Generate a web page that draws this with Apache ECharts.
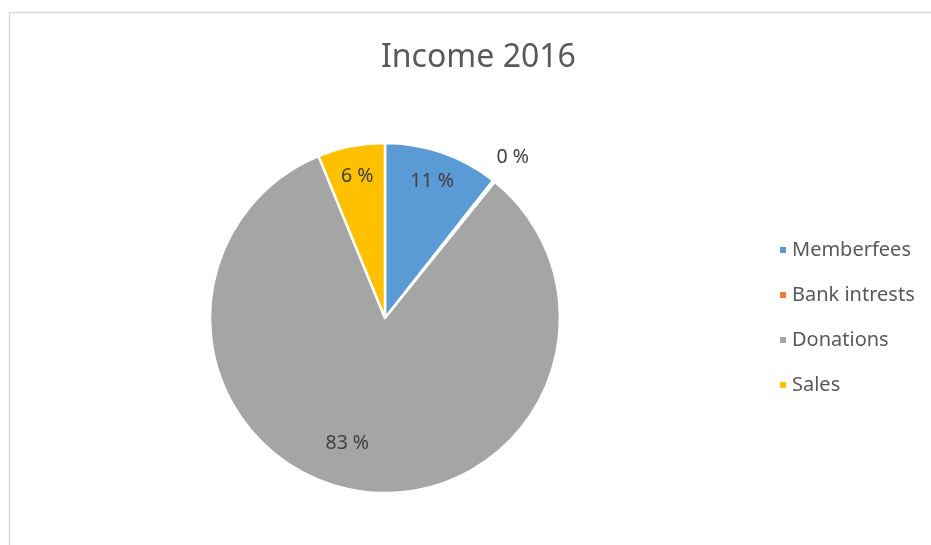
<!DOCTYPE html>
<html>
<head>
<meta charset="utf-8">
<script src="https://cdn.jsdelivr.net/npm/echarts@6/dist/echarts.min.js"></script>
<style>
  html, body { margin: 0; padding: 0; background: #fff; }
  #chart { width: 931px; height: 545px; }
</style>
</head>
<body>
<div id="chart"></div>
<script>
// Income sources for 2016, share of total (%)
const categories = ['Memberfees', 'Bank intrests', 'Donations', 'Sales'];
const shares = [10.6, 0.2, 83.0, 6.2];
const colors = ['#5B9BD5', '#ED7D31', '#A5A5A5', '#FFC000'];

const FONT = '"Noto Sans", "Open Sans", sans-serif';
const CENTER = [385, 318];
const R = 175;

const pieData = categories.map((name, i) => ({
  name, value: shares[i], itemStyle: { color: colors[i] }
}));

const pctText = p => Math.round(p.percent) + ' %';

// transparent overlay rings carry the value labels at chosen distances from the centre
function labelRing(show, inner, outer, extraLabel) {
  return {
    type: 'pie', silent: true, center: CENTER, radius: [inner, outer],
    startAngle: 90, clockwise: true, avoidLabelOverlap: false,
    legendHoverLink: false, z: 5,
    itemStyle: { color: 'rgba(0,0,0,0)', borderWidth: 0 },
    emphasis: { disabled: true },
    labelLine: { show: false },
    data: categories.map((name, i) => ({
      name, value: shares[i],
      label: Object.assign({
        show: show.includes(i), position: 'inside', formatter: pctText,
        color: '#404040', fontSize: 19.5, fontFamily: FONT
      }, (extraLabel && extraLabel[i]) || {})
    }))
  };
}

const chart = echarts.init(document.getElementById('chart'));
chart.setOption({
  backgroundColor: '#fff',
  animation: false,
  color: colors,
  title: {
    text: 'Income 2016', left: 381, top: 42, padding: 0,
    textStyle: { color: '#595959', fontSize: 32, fontWeight: 'normal', fontFamily: FONT }
  },
  graphic: [{
    type: 'rect', silent: true,
    shape: { x: 9.5, y: 12.5, width: 1000, height: 600 },
    style: { fill: 'none', stroke: '#d9d9d9', lineWidth: 1.5 }
  }],
  legend: {
    orient: 'vertical', left: 773, top: 235,
    icon: 'rect', itemWidth: 8, itemHeight: 8, itemGap: 25,
    data: categories,
    textStyle: { color: '#595959', fontSize: 20, fontFamily: FONT, padding: [0, 0, 0, 0] }
  },
  series: [
    {
      type: 'pie', center: CENTER, radius: [0, R],
      startAngle: 90, clockwise: true,
      itemStyle: { borderColor: '#fff', borderWidth: 2.5 },
      label: { show: false }, labelLine: { show: false },
      emphasis: { scale: false },
      data: pieData
    },
    labelRing([0, 2, 3], 105, 177, { 2: { offset: [-17, -17] } }),
    labelRing([1], 180, 224)
  ]
});
</script>
</body>
</html>
